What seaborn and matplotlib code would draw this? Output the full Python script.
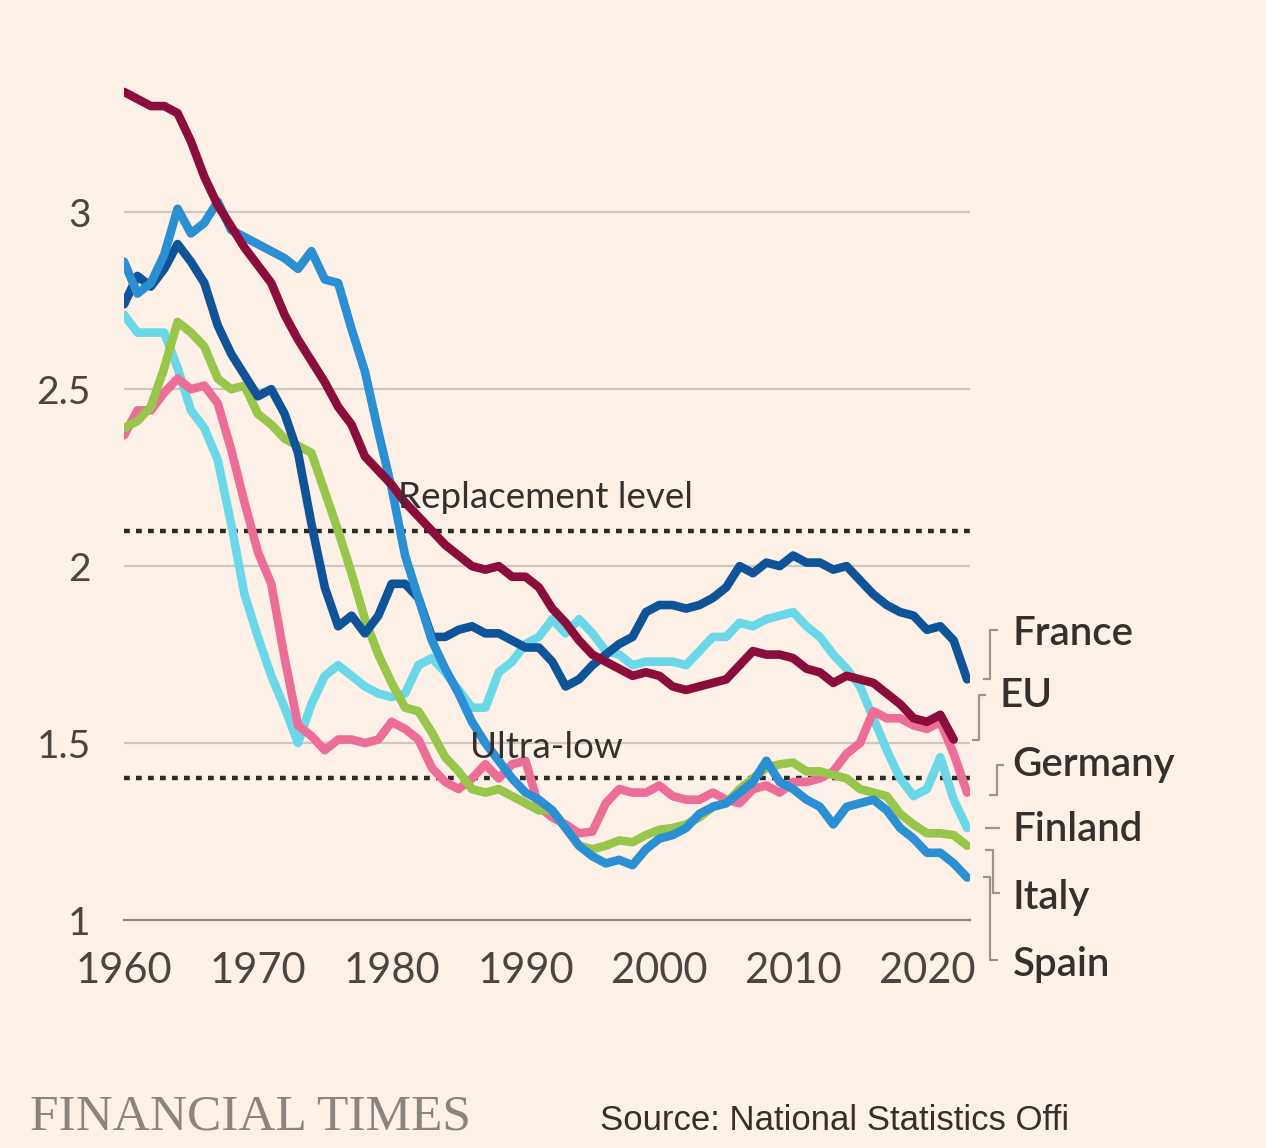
import numpy as np
import pandas as pd
import matplotlib
matplotlib.use("Agg")
import matplotlib.pyplot as plt
import seaborn as sns

# fertility rate
years = list(range(1960, 2024))
years_eu = list(range(1960, 2023))

france = [2.74, 2.82, 2.79, 2.84, 2.91, 2.86, 2.80, 2.68, 2.60, 2.54,
          2.48, 2.50, 2.43, 2.32, 2.12, 1.94, 1.83, 1.86, 1.81, 1.86,
          1.95, 1.95, 1.91, 1.80, 1.80, 1.82, 1.83, 1.81, 1.81, 1.79,
          1.77, 1.77, 1.73, 1.66, 1.68, 1.72, 1.75, 1.78, 1.80, 1.87,
          1.89, 1.89, 1.88, 1.89, 1.91, 1.94, 2.00, 1.98, 2.01, 2.00,
          2.03, 2.01, 2.01, 1.99, 2.00, 1.96, 1.92, 1.89, 1.87, 1.86,
          1.82, 1.83, 1.79, 1.68]

eu = [3.34, 3.32, 3.30, 3.30, 3.28, 3.20, 3.10, 3.02, 2.96, 2.90,
      2.85, 2.80, 2.71, 2.64, 2.58, 2.52, 2.45, 2.40, 2.31, 2.27,
      2.23, 2.18, 2.14, 2.10, 2.06, 2.03, 2.00, 1.99, 2.00, 1.97,
      1.97, 1.94, 1.88, 1.84, 1.79, 1.75, 1.73, 1.71, 1.69, 1.70,
      1.69, 1.66, 1.65, 1.66, 1.67, 1.68, 1.72, 1.76, 1.75, 1.75,
      1.74, 1.71, 1.70, 1.67, 1.69, 1.68, 1.67, 1.64, 1.61, 1.57,
      1.56, 1.58, 1.51]

germany = [2.37, 2.44, 2.44, 2.49, 2.53, 2.50, 2.51, 2.46, 2.33, 2.18,
           2.04, 1.95, 1.74, 1.55, 1.52, 1.48, 1.51, 1.51, 1.50, 1.51,
           1.56, 1.54, 1.51, 1.43, 1.39, 1.37, 1.40, 1.44, 1.40, 1.44,
           1.45, 1.32, 1.29, 1.27, 1.245, 1.25, 1.33, 1.37, 1.36, 1.36,
           1.38, 1.35, 1.34, 1.34, 1.36, 1.34, 1.33, 1.37, 1.38, 1.36,
           1.39, 1.39, 1.40, 1.42, 1.47, 1.50, 1.59, 1.57, 1.57, 1.55,
           1.54, 1.56, 1.47, 1.36]

finland = [2.71, 2.66, 2.66, 2.66, 2.56, 2.44, 2.39, 2.30, 2.12, 1.92,
           1.80, 1.69, 1.60, 1.50, 1.61, 1.69, 1.72, 1.69, 1.66, 1.64,
           1.63, 1.64, 1.72, 1.74, 1.70, 1.65, 1.60, 1.60, 1.70, 1.73,
           1.78, 1.80, 1.85, 1.81, 1.85, 1.81, 1.76, 1.75, 1.72, 1.73,
           1.73, 1.73, 1.72, 1.76, 1.80, 1.80, 1.84, 1.83, 1.85, 1.86,
           1.87, 1.83, 1.80, 1.75, 1.71, 1.66, 1.57, 1.48, 1.40, 1.35,
           1.37, 1.46, 1.34, 1.26]

italy = [2.39, 2.41, 2.45, 2.56, 2.69, 2.66, 2.62, 2.53, 2.50, 2.51,
         2.43, 2.40, 2.36, 2.34, 2.32, 2.21, 2.10, 1.98, 1.85, 1.75,
         1.67, 1.60, 1.59, 1.53, 1.46, 1.42, 1.37, 1.36, 1.37, 1.35,
         1.33, 1.31, 1.31, 1.26, 1.21, 1.20, 1.21, 1.225, 1.22, 1.24,
         1.255, 1.26, 1.27, 1.29, 1.32, 1.33, 1.37, 1.40, 1.43, 1.44,
         1.445, 1.42, 1.42, 1.41, 1.40, 1.37, 1.36, 1.35, 1.30, 1.27,
         1.245, 1.245, 1.24, 1.21]

spain = [2.86, 2.77, 2.80, 2.88, 3.01, 2.94, 2.97, 3.03, 2.95, 2.93,
         2.91, 2.89, 2.87, 2.84, 2.89, 2.81, 2.80, 2.67, 2.55, 2.38,
         2.22, 2.03, 1.91, 1.79, 1.71, 1.64, 1.56, 1.50, 1.45, 1.40,
         1.36, 1.34, 1.31, 1.26, 1.21, 1.18, 1.16, 1.17, 1.155, 1.20,
         1.23, 1.24, 1.26, 1.30, 1.32, 1.33, 1.36, 1.39, 1.45, 1.39,
         1.37, 1.34, 1.32, 1.27, 1.32, 1.33, 1.34, 1.31, 1.26, 1.23,
         1.19, 1.19, 1.16, 1.12]

countries = ["France", "EU", "Germany", "Finland", "Italy", "Spain"]
colors = {"France": "#0F5499", "EU": "#8B0D3C", "Germany": "#EC6E98",
          "Finland": "#6AD8E8", "Italy": "#97C64B", "Spain": "#2A8FD3"}

# right-hand labels: label y, and bracket (label end, line end, x)
label_y = {"France": 1.81, "EU": 1.635, "Germany": 1.44,
           "Finland": 1.255, "Italy": 1.065, "Spain": 0.875}
bracket = {"France": (1.82, 1.68, 2024.75), "EU": (1.636, 1.508, 2023.9),
           "Germany": (1.438, 1.353, 2025.2), "Finland": (1.26, 1.26, 2024.9),
           "Italy": (1.076, 1.198, 2024.9), "Spain": (0.887, 1.121, 2024.75)}

series = {"France": (years, france), "EU": (years_eu, eu),
          "Germany": (years, germany), "Finland": (years, finland),
          "Italy": (years, italy), "Spain": (years, spain)}
df = pd.concat([pd.DataFrame({"year": y, "rate": v, "country": c})
                for c, (y, v) in series.items()], ignore_index=True)

bg = "#FDF1E7"
sns.set_theme(style="white")
plt.rcParams["font.family"] = ["Lato", "DejaVu Sans"]

fig = plt.figure(figsize=(12.66, 11.48), dpi=100, facecolor=bg)
ax = fig.add_axes([0.098, 0.1986, 0.668, 0.746], facecolor=bg)

for g in [1.5, 2, 2.5, 3]:
    ax.axhline(g, color="#CFC6BD", lw=1.6, zorder=0)

for lvl in [2.1, 1.4]:
    ax.axhline(lvl, color="#2B2827", lw=3.2, dashes=(1.3, 1.4), zorder=1)

draw_order = ["Finland", "Germany", "Italy", "France", "Spain", "EU"]
sns.lineplot(data=df, x="year", y="rate", hue="country", hue_order=draw_order,
             palette=colors, linewidth=6.2, legend=False, ax=ax,
             solid_capstyle="round", solid_joinstyle="round", zorder=3)

ax.set_xlim(1960, 2023.2)
ax.set_ylim(1, 3.42)
ax.set_xlabel("")
ax.set_ylabel("")

ax.set_xticks(range(1960, 2021, 5))
ax.set_xticklabels([str(y) if y % 10 == 0 else "" for y in range(1960, 2021, 5)])
ax.set_yticks([1, 1.5, 2, 2.5, 3])
ax.set_yticklabels(["1", "1.5", "2", "2.5", "3"])
ax.tick_params(axis="x", length=14, width=1.6, color="#8E8782", direction="out",
               pad=9, labelsize=30, labelcolor="#4A4542")
ax.tick_params(axis="y", length=0, pad=24, labelsize=28, labelcolor="#4A4542")

for s in ["top", "right", "left"]:
    ax.spines[s].set_visible(False)
ax.spines["bottom"].set_color("#8E8782")
ax.spines["bottom"].set_linewidth(1.6)

ax.text(1980.45, 2.164, "Replacement level", fontsize=26.5, color="#33302E",
        va="baseline", ha="left", zorder=4)
ax.text(1985.85, 1.458, "Ultra-low", fontsize=26.5, color="#33302E",
        va="baseline", ha="left", zorder=4)

# labels and brackets at the right
for c in countries:
    ly, dy, bx = bracket[c]
    tick = 0.55
    ax.plot([bx - tick, bx, bx, bx + tick], [dy, dy, ly, ly], color="#9A938E",
            lw=1.6, clip_on=False, solid_capstyle="butt")
    tx = 2025.4 if c == "EU" else 2026.4
    ax.text(tx, label_y[c], c, fontsize=29, color="#33302E", fontweight="semibold",
            va="center", ha="left", clip_on=False)

fig.text(30 / 1266, 1 - 1130 / 1148, "FINANCIAL TIMES", fontsize=37,
         family=["Liberation Serif", "DejaVu Serif"], color="#8A8480", va="baseline")
fig.text(600 / 1266, 1 - 1130 / 1148, "Source: National Statistics Offi", fontsize=25,
         family=["Liberation Sans Narrow", "Liberation Sans", "DejaVu Sans"],
         color="#33302E", va="baseline")

fig.savefig("out.png", dpi=100, facecolor=bg)
